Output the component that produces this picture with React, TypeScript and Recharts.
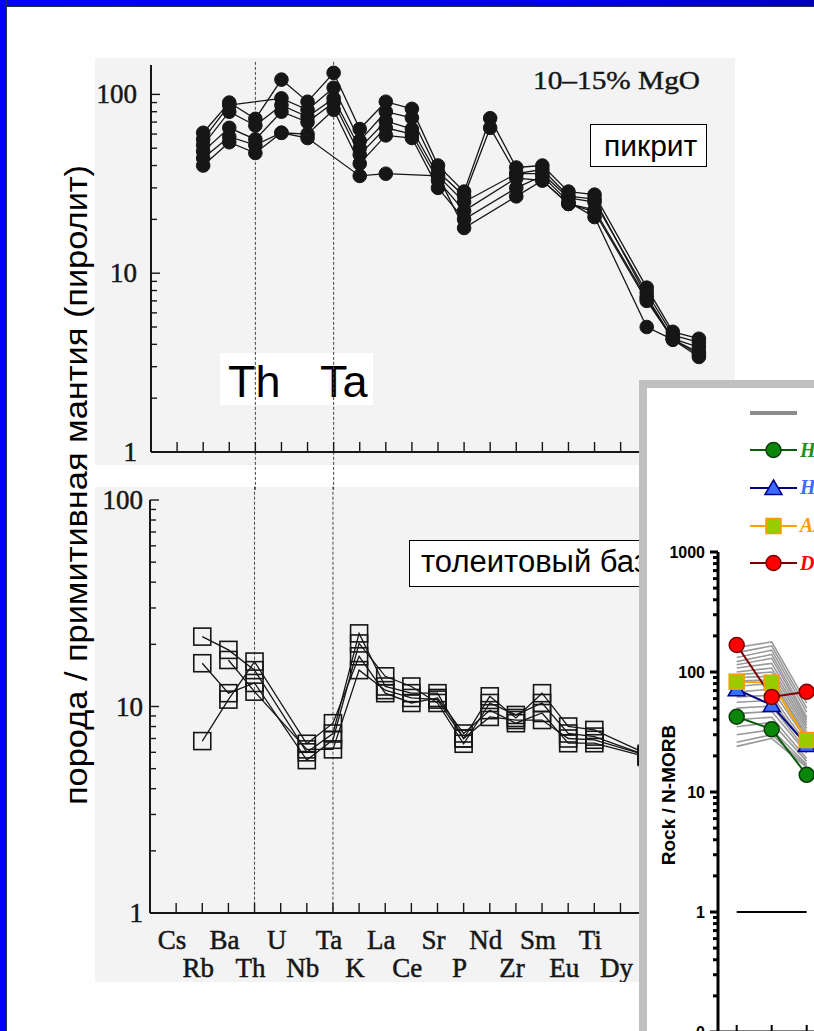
import React from 'react';
import { LineChart, Line, XAxis, YAxis, ReferenceLine, Legend } from 'recharts';

// element order of the spider diagrams (rock / primitive mantle)
const ELEMENTS = ['Cs', 'Rb', 'Ba', 'Th', 'U', 'Nb', 'Ta', 'K', 'La', 'Ce', 'Sr', 'P', 'Nd', 'Zr', 'Sm', 'Eu', 'Ti', 'Dy', 'Y', 'Yb', 'Lu'];
const ELEMENT_TICKS = [1, 2, 3, 4, 5, 6, 7, 8, 9, 10, 11, 12, 13, 14, 15, 16, 17, 18, 19, 20, 21];
const LAST_LABELLED = 18; // labels past Dy sit under the inset
const PM_TICKS = [1, 2, 3, 4, 5, 6, 7, 8, 9, 10, 20, 30, 40, 50, 60, 70, 80, 90, 100];
const PM_DECADES = [1, 10, 100];
const MARKED_ELEMENTS = [4, 7]; // Th, Ta

// picrite, 10-15% MgO
const PICRITE_1 = [null, 61, 90, 73, 121, 91, 132, 64, 91, 83, 40, 28.6, 73.6, 39, 40, 28.6, 27.5, null, 8.3, 4.7, 4.3];
const PICRITE_2 = [null, 56, 87, null, 95, 82, 109, 55, 80, 74, 37, 27, 65, 36, 36, 26.4, 25, null, 7.8, 4.5, 4.1];
const PICRITE_3 = [null, 52, 80, 67, 87, 75, 95, 50, 71, 64, 35, 25, null, 36, 38, 27, 26, null, 7.4, 4.3, 3.85];
const PICRITE_4 = [null, 48, 65, 56, 80, 70, 90, 46, 65, 60, 33, 22.3, null, 34, 33, 24.4, 22.6, null, 7.2, 4.25, 3.6];
const PICRITE_5 = [null, 44, 58, 52, 61, 60, 82, 41, 59, 57, 30, 20, null, 30, 35, 25, 20.6, null, 5.0, 4.25, 3.4];
const PICRITE_6 = [null, 40, 54, 47, 61, 57, null, 35, 36, null, 35, 17.9, null, 26.9, 33, 24.4, 22, null, 7.0, 4.3, 3.5];

// tholeiitic basalt
const THOLEIITE_1 = [null, 21.8, 18.8, 15.0, null, 6.0, 7.4, 22.6, 12.5, 11.6, 11.6, 7.0, 11.2, 8.8, 11.6, 8.0, 7.7, null, 5.9, null, null];
const THOLEIITE_2 = [null, 16.2, 11.6, 13.0, null, 5.5, 6.9, 20.2, 14.0, 12.5, 10.4, 6.6, 10.4, 9.1, 10.4, 7.4, 7.15, null, 5.8, null, null];
const THOLEIITE_3 = [null, 6.8, 10.8, 16.5, null, 6.6, 8.3, 17.5, 11.6, 10.4, 11.0, 7.4, 9.6, 8.3, 9.3, 6.64, 6.64, null, 5.7, null, null];
const THOLEIITE_4 = [null, null, 16.8, 11.8, null, 6.2, 6.2, 15.0, 12.0, 11.0, 10.8, 7.0, 8.9, 8.6, 8.6, 7.0, 6.9, null, 5.8, null, null];

// Rock / N-MORB inset (only the first three positions are on the slide)
const MORB_CATS = ['Rb', 'Ba', 'Th'];
const MORB_TICKS = [0.1, 0.2, 0.3, 0.4, 0.5, 0.6, 0.7, 0.8, 0.9, 1, 2, 3, 4, 5, 6, 7, 8, 9, 10, 20, 30, 40, 50, 60, 70, 80, 90, 100, 200, 300, 400, 500, 600, 700, 800, 900, 1000];
const MORB_DECADES = [0.1, 1, 10, 100, 1000];
const MORB_REF = [1, 1, 1];
const MORB_H1 = [42.4, 33.3, 13.9];
const MORB_H2 = [71.7, 53, 24.6];
const MORB_A = [83, 81.5, 27.1];
const MORB_D = [168, 62, 68.5];
const MORB_OTHERS = [
  [160, 178, 55], [145, 165, 50], [132, 152, 46], [122, 140, 42], [115, 130, 40],
  [108, 118, 38], [100, 108, 36], [95, 100, 34], [90, 92, 32], [84, 86, 30],
  [76, 80, 29], [68, 72, 27], [62, 64, 25], [56, 58, 24], [50, 52, 22],
  [45, 47, 21], [40, 42, 19], [35, 38, 18], [30, 33, 17], [26, 30, 16.5], [24, 28, 16],
];

const INK = '#161616';
const SCAN_BG = '#f3f3f3';
const SERIF = '"Liberation Serif", "Times New Roman", serif';
const SANS = '"Liberation Sans", Arial, sans-serif';

const PICRITE = [PICRITE_1, PICRITE_2, PICRITE_3, PICRITE_4, PICRITE_5, PICRITE_6];
const THOLEIITE = [THOLEIITE_1, THOLEIITE_2, THOLEIITE_3, THOLEIITE_4];

const picriteRows = ELEMENTS.map((el, i) => {
  const row: any = { x: i + 1, el };
  PICRITE.forEach((s, k) => (row['s' + k] = s[i]));
  return row;
});
const tholeiiteRows = ELEMENTS.map((el, i) => {
  const row: any = { x: i + 1, el };
  THOLEIITE.forEach((s, k) => (row['s' + k] = s[i]));
  return row;
});
const morbRows = MORB_CATS.map((cat, i) => {
  const row: any = { x: i + 1, cat, ref: MORB_REF[i], h1: MORB_H1[i], h2: MORB_H2[i], a: MORB_A[i], d: MORB_D[i] };
  MORB_OTHERS.forEach((s, k) => (row['o' + k] = s[i]));
  return row;
});

const MORB_SERIES = [
  { key: 'h1', name: 'Hawaii', line: '#0b5a0b', marker: 'circle', fill: '#0a870a', edge: '#0b3b0b', text: '#1f8f1f' },
  { key: 'h2', name: 'Heard', line: '#00007f', marker: 'triangle', fill: '#3b6cff', edge: '#00008b', text: '#3b6cff' },
  { key: 'a', name: 'Azores', line: '#ffa200', marker: 'square', fill: '#99cc00', edge: '#ff9900', text: '#ff9900' },
  { key: 'd', name: 'Discovery', line: '#7a0000', marker: 'circle', fill: '#ff0000', edge: '#7a0000', text: '#ff0000' },
];

function Marker({ kind, cx, cy, fill, edge }: any) {
  if (cx == null || cy == null) return <g />;
  if (kind === 'circle') return <circle cx={cx} cy={cy} r={7.5} fill={fill} stroke={edge} strokeWidth={1.5} />;
  if (kind === 'triangle')
    return <polygon points={`${cx},${cy - 8} ${cx + 8.5},${cy + 6.5} ${cx - 8.5},${cy + 6.5}`} fill={fill} stroke={edge} strokeWidth={1.5} />;
  if (kind === 'square') return <rect x={cx - 7.5} y={cy - 7.5} width={15} height={15} fill={fill} stroke={edge} strokeWidth={1.5} />;
  return <g />;
}

function OpenSquare(p: any) {
  if (p.cy == null || p.cx == null) return <g key={p.key} />;
  return <rect key={p.key} x={p.cx - 8.5} y={p.cy - 8.5} width={17} height={17} fill="none" stroke={INK} strokeWidth={1.6} />;
}

// y ticks of the scanned diagrams: ticks point inward, labels on the left
function PmYTick({ x, y, payload, gap }: any) {
  const v = payload.value;
  const major = PM_DECADES.includes(v);
  return (
    <g>
      <line x1={x} x2={x + (major ? 9 : 6)} y1={y} y2={y} stroke={INK} strokeWidth={1.4} />
      {major && (
        <text x={x - gap} y={y} dy={9} textAnchor="end" fontFamily={SERIF} fontSize={27} fill={INK} stroke={INK} strokeWidth={0.5}>
          {v}
        </text>
      )}
    </g>
  );
}

function UpTick({ x, y }: any) {
  return <line x1={x} x2={x} y1={y} y2={y - 10} stroke={INK} strokeWidth={1.4} />;
}

function ElementTick({ x, y, payload }: any) {
  const i = payload.value;
  const upper = i % 2 === 1;
  return (
    <g>
      <line x1={x} x2={x} y1={y} y2={y - 10} stroke={INK} strokeWidth={1.4} />
      {i <= LAST_LABELLED && (
        <text x={x - 4} y={y + (upper ? 36 : 64)} textAnchor="middle" fontFamily={SERIF} fontSize={27} fill={INK} stroke={INK} strokeWidth={0.5}>
          {ELEMENTS[i - 1]}
        </text>
      )}
    </g>
  );
}

function MorbYTick({ x, y, payload }: any) {
  const v = payload.value;
  const major = MORB_DECADES.includes(v);
  return (
    <g>
      <line x1={x - (major ? 8 : 5)} x2={x} y1={y} y2={y} stroke="#000" strokeWidth={3} />
      {major && (
        <text x={x - 13} y={y} dy={6} textAnchor="end" fontFamily={SANS} fontWeight="bold" fontSize={16} fill="#000">
          {v < 1 ? '0' : v}
        </text>
      )}
    </g>
  );
}

function MorbXTick({ x, y }: any) {
  return <line x1={x} x2={x} y1={y} y2={y - 7} stroke="#000" strokeWidth={2} />;
}

function MorbLegend() {
  const rows = [{ key: 'o', name: '', line: '#8c8c8c', marker: 'none', fill: '', edge: '', text: '#808080' }, ...MORB_SERIES];
  return (
    <div>
      {rows.map((r) => (
        <div key={r.key} style={{ height: 37.6, display: 'flex', alignItems: 'center', whiteSpace: 'nowrap' }}>
          <svg width={50} height={24}>
            <line x1={0} x2={47} y1={12} y2={12} stroke={r.line} strokeWidth={r.marker === 'none' ? 4 : 2} />
            <Marker kind={r.marker} cx={23.5} cy={12} fill={r.fill} edge={r.edge} />
          </svg>
          <span style={{ fontFamily: SERIF, fontStyle: 'italic', fontWeight: 'bold', fontSize: 20, color: r.text }}>{r.name}</span>
        </div>
      ))}
    </div>
  );
}

const abs: React.CSSProperties = { position: 'absolute', left: 0, top: 0 };

export default function App() {
  return (
    <div style={{ position: 'fixed', left: 0, top: 0, width: 814, height: 1031, overflow: 'hidden', background: '#fff' }}>
      {/* scanned figures */}
      <div style={{ position: 'absolute', left: 95, top: 58, width: 640, height: 407, background: SCAN_BG }} />
      <div style={{ position: 'absolute', left: 95, top: 487, width: 640, height: 495, background: SCAN_BG }} />
      <svg style={abs} width={814} height={1031}>
        <rect x={220} y={353} width={153} height={52} fill="#fff" />
        <text x={228} y={397} fontFamily={SANS} fontSize={45} fill="#000">Th</text>
        <text x={320} y={397} fontFamily={SANS} fontSize={45} fill="#000">Ta</text>
      </svg>

      {/* picrite */}
      <div style={{ position: 'absolute', left: 95, top: 58 }}>
        <LineChart width={640} height={432} data={picriteRows} margin={{ top: 7, right: 10, bottom: 8, left: 0 }}>
          <XAxis
            type="number"
            dataKey="x"
            domain={[0, 22]}
            ticks={ELEMENT_TICKS}
            interval={0}
            allowDataOverflow
            height={30}
            axisLine={{ stroke: INK, strokeWidth: 2 }}
            tickLine={false}
            tickSize={0}
            tickMargin={0}
            tick={(p: any) => <UpTick {...p} />}
          />
          <YAxis
            scale="log"
            domain={[1, 146]}
            allowDataOverflow
            ticks={PM_TICKS}
            interval={0}
            width={56}
            axisLine={{ stroke: INK, strokeWidth: 2 }}
            tickLine={false}
            tickSize={0}
            tickMargin={0}
            tick={(p: any) => <PmYTick {...p} gap={14} />}
          />
          {MARKED_ELEMENTS.map((m) => (
            <ReferenceLine key={m} segment={[{ x: m, y: 152 }, { x: m, y: 0.61 }]} stroke="#444" strokeDasharray="3 2" ifOverflow="visible" />
          ))}
          {PICRITE.map((_, k) => (
            <Line
              key={k}
              dataKey={'s' + k}
              stroke={INK}
              strokeWidth={1.3}
              connectNulls
              dot={{ r: 6.8, fill: INK, stroke: INK, strokeWidth: 1 }}
              isAnimationActive={false}
            />
          ))}
        </LineChart>
      </div>

      {/* tholeiitic basalt */}
      <div style={{ position: 'absolute', left: 95, top: 478 }}>
        <LineChart width={640} height={504} data={tholeiiteRows} margin={{ top: 22, right: 10, bottom: 9, left: 0 }}>
          <XAxis
            type="number"
            dataKey="x"
            domain={[0, 22]}
            ticks={ELEMENT_TICKS}
            interval={0}
            allowDataOverflow
            height={60}
            axisLine={{ stroke: INK, strokeWidth: 2 }}
            tickLine={false}
            tickSize={0}
            tickMargin={0}
            tick={(p: any) => <ElementTick {...p} />}
          />
          <YAxis
            scale="log"
            domain={[1, 100]}
            allowDataOverflow
            ticks={PM_TICKS}
            interval={0}
            width={55}
            axisLine={{ stroke: INK, strokeWidth: 2 }}
            tickLine={false}
            tickSize={0}
            tickMargin={0}
            tick={(p: any) => <PmYTick {...p} gap={7} />}
          />
          {MARKED_ELEMENTS.map((m) => (
            <ReferenceLine key={m} segment={[{ x: m, y: 116 }, { x: m, y: 1 }]} stroke="#444" strokeDasharray="3 2" ifOverflow="visible" />
          ))}
          {THOLEIITE.map((_, k) => (
            <Line
              key={k}
              dataKey={'s' + k}
              stroke={INK}
              strokeWidth={1.3}
              connectNulls
              dot={(p: any) => <OpenSquare {...p} />}
              isAnimationActive={false}
            />
          ))}
        </LineChart>
      </div>

      {/* labels on the scans */}
      <svg style={abs} width={814} height={1031}>
        <text x={533} y={89} fontFamily={SERIF} fontSize={26} fill={INK} stroke={INK} strokeWidth={0.4} textLength={167} lengthAdjust="spacingAndGlyphs">
          10–15% MgO
        </text>
        <rect x={590.5} y={124.5} width={116} height={42} fill="#fff" stroke="#000" strokeWidth={1} />
        <text x={604} y={156} fontFamily={SANS} fontSize={30} fill="#000">пикрит</text>
        <rect x={409.5} y={540.5} width={300} height={46} fill="#fff" stroke="#000" strokeWidth={1} />
        <text x={421} y={572} fontFamily={SANS} fontSize={31} fill="#000">толеитовый базальт</text>
        <text
          x={76}
          y={485}
          transform="rotate(-90 76 485)"
          textAnchor="middle"
          dominantBaseline="central"
          fontFamily={SANS}
          fontSize={31}
          fill="#000"
          textLength={640}
          lengthAdjust="spacingAndGlyphs"
        >
          порода / примитивная мантия (пиролит)
        </text>
      </svg>

      {/* Rock / N-MORB inset */}
      <div style={{ position: 'absolute', left: 639, top: 380, width: 300, height: 800, boxSizing: 'border-box', border: '8px solid #c0c0c0', background: '#fff' }} />
      <div style={{ position: 'absolute', left: 647, top: 388 }}>
        <LineChart width={250} height={700} data={morbRows} margin={{ top: 164, right: 0, bottom: 26, left: 0 }}>
          <XAxis
            type="number"
            dataKey="x"
            domain={[0.466, 5.58]}
            ticks={[1, 2, 3, 4, 5]}
            interval={0}
            allowDataOverflow
            height={30}
            axisLine={{ stroke: '#000', strokeWidth: 3 }}
            tickLine={false}
            tickSize={0}
            tickMargin={0}
            tick={(p: any) => <MorbXTick {...p} />}
          />
          <YAxis
            scale="log"
            domain={[0.1, 1000]}
            allowDataOverflow
            ticks={MORB_TICKS}
            interval={0}
            width={71}
            axisLine={{ stroke: '#000', strokeWidth: 3 }}
            tickLine={false}
            tickSize={0}
            tickMargin={0}
            tick={(p: any) => <MorbYTick {...p} />}
          />
          <Legend
            layout="vertical"
            align="center"
            verticalAlign="middle"
            wrapperStyle={{ top: 6, left: 103, width: 300 }}
            content={() => <MorbLegend />}
          />
          {MORB_OTHERS.map((_, k) => (
            <Line key={k} dataKey={'o' + k} stroke="#9a9a9a" strokeWidth={1.6} dot={false} legendType="none" isAnimationActive={false} />
          ))}
          <Line dataKey="ref" stroke="#000" strokeWidth={2} dot={false} legendType="none" isAnimationActive={false} />
          {MORB_SERIES.map((s) => (
            <Line
              key={s.key}
              dataKey={s.key}
              name={s.name}
              stroke={s.line}
              strokeWidth={2}
              dot={(p: any) => <Marker key={p.key} kind={s.marker} cx={p.cx} cy={p.cy} fill={s.fill} edge={s.edge} />}
              isAnimationActive={false}
            />
          ))}
        </LineChart>
      </div>
      <svg style={abs} width={814} height={1031}>
        <text x={668} y={795} transform="rotate(-90 668 795)" textAnchor="middle" dominantBaseline="central" fontFamily={SANS} fontWeight="bold" fontSize={19} fill="#000">
          Rock / N-MORB
        </text>
      </svg>

      {/* slide frame */}
      <div style={{ position: 'absolute', left: 0, top: 0, width: 814, height: 6, background: 'linear-gradient(to right, #0000ff, #0000ee 60%, #0000b4)', borderBottom: '1px solid #2a2a55' }} />
      <div style={{ position: 'absolute', left: 0, top: 0, width: 6, height: 1031, background: '#0000ff', borderRight: '1px solid #2a2a55' }} />
    </div>
  );
}
